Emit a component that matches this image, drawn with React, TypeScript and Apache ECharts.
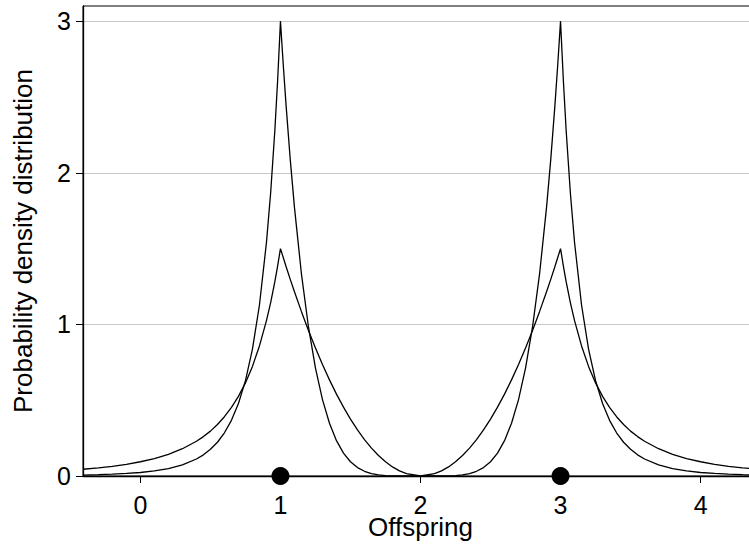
import React, { useEffect, useRef } from "react";
import * as echarts from "echarts";

const offspringX = [
  -0.41, -0.3, -0.2, -0.1, 0, 0.1, 0.2, 0.3, 0.4, 0.45, 0.5, 0.55, 0.6, 0.65, 0.7, 0.75, 0.8, 0.85, 0.9, 0.93, 0.96, 0.98,
  1.0, 1.02, 1.04, 1.07, 1.1, 1.15, 1.2, 1.25, 1.3, 1.35, 1.4, 1.45, 1.5, 1.55, 1.6, 1.65, 1.7, 1.75, 1.8, 1.85, 1.9, 2.0,
  2.1, 2.15, 2.2, 2.25, 2.3, 2.35, 2.4, 2.45, 2.5, 2.55, 2.6, 2.65, 2.7, 2.75, 2.8, 2.85, 2.9, 2.93, 2.96, 2.98,
  3.0, 3.02, 3.04, 3.07, 3.1, 3.15, 3.2, 3.25, 3.3, 3.35, 3.4, 3.45, 3.5, 3.55, 3.6, 3.7, 3.8, 3.9, 4.0, 4.1, 4.2, 4.3, 4.41,
];

const broadDensity = [
  0.0445, 0.0536, 0.064, 0.0771, 0.094, 0.1151, 0.143, 0.18, 0.229, 0.2599, 0.296, 0.3393, 0.391, 0.452, 0.525, 0.614, 0.723, 0.858, 1.025, 1.144, 1.282, 1.386,
  1.5, 1.441, 1.382, 1.297, 1.215, 1.084, 0.96, 0.844, 0.735, 0.634, 0.54, 0.454, 0.375, 0.304, 0.24, 0.184, 0.135, 0.0938, 0.06, 0.0338, 0.015, 0,
  0.015, 0.0338, 0.06, 0.0938, 0.135, 0.184, 0.24, 0.304, 0.375, 0.454, 0.54, 0.634, 0.735, 0.844, 0.96, 1.084, 1.215, 1.297, 1.382, 1.441,
  1.5, 1.386, 1.282, 1.144, 1.025, 0.858, 0.723, 0.614, 0.525, 0.452, 0.391, 0.3393, 0.296, 0.2599, 0.229, 0.18, 0.143, 0.1151, 0.094, 0.0771, 0.064, 0.0536, 0.0445,
];

const sharpDensity = [
  0.0064, 0.0088, 0.012, 0.0167, 0.023, 0.0336, 0.049, 0.073, 0.112, 0.1396, 0.176, 0.2226, 0.285, 0.367, 0.478, 0.629, 0.837, 1.128, 1.54, 1.868, 2.28, 2.612,
  3.0, 2.712, 2.446, 2.087, 1.772, 1.331, 0.983, 0.712, 0.504, 0.348, 0.233, 0.151, 0.094, 0.0554, 0.031, 0.0158, 0.007, 0.0029, 0.001, 0.0002, 0, 0,
  0, 0.0002, 0.001, 0.0029, 0.007, 0.0158, 0.031, 0.0554, 0.094, 0.151, 0.233, 0.348, 0.504, 0.712, 0.983, 1.331, 1.772, 2.087, 2.446, 2.712,
  3.0, 2.612, 2.28, 1.868, 1.54, 1.128, 0.837, 0.629, 0.478, 0.367, 0.285, 0.2226, 0.176, 0.1396, 0.112, 0.073, 0.049, 0.0336, 0.023, 0.0167, 0.012, 0.0088, 0.0064,
];

const parentX = [1, 3];
const parentY = [0, 0];

const xTicks = [0, 1, 2, 3, 4];
const yTicks = [0, 1, 2, 3];

const FONT = "'Liberation Sans', Arial, sans-serif";

export default function App() {
  const ref = useRef<HTMLDivElement>(null);

  useEffect(() => {
    if (!ref.current) return;
    const chart = echarts.init(ref.current, undefined, { renderer: "svg" });

    const broadData = offspringX.map((x, i) => [x, broadDensity[i]]);
    const sharpData = offspringX.map((x, i) => [x, sharpDensity[i]]);
    const parentData = parentX.map((x, i) => [x, parentY[i]]);

    chart.setOption({
      animation: false,
      backgroundColor: "#ffffff",
      grid: {
        left: 83,
        top: 6,
        width: 675,
        height: 470,
        show: true,
        borderColor: "#000000",
        borderWidth: 1,
        containLabel: false,
        outerBoundsMode: "none",
      },
      xAxis: {
        type: "value",
        min: -0.41,
        max: 4.41,
        name: "Offspring",
        nameLocation: "middle",
        nameGap: 38,
        nameMoveOverlap: false,
        nameTextStyle: { fontFamily: FONT, fontSize: 26, color: "#000" },
        axisLine: { show: true, onZero: false, lineStyle: { color: "#000", width: 1.3 } },
        axisTick: { show: true, length: 7, customValues: xTicks, lineStyle: { color: "#000", width: 1 } },
        axisLabel: {
          customValues: xTicks,
          margin: 16,
          fontFamily: FONT,
          fontSize: 25,
          color: "#000",
        },
        splitLine: { show: false },
      },
      yAxis: {
        type: "value",
        min: 0,
        max: 3.1,
        name: "Probability density distribution",
        nameLocation: "middle",
        nameGap: 47,
        nameMoveOverlap: false,
        nameTextStyle: { fontFamily: FONT, fontSize: 26, color: "#000" },
        axisLine: { show: true, onZero: false, lineStyle: { color: "#000", width: 1.3 } },
        axisTick: { show: true, length: 7, customValues: yTicks, lineStyle: { color: "#000", width: 1 } },
        axisLabel: {
          customValues: yTicks,
          margin: 12,
          fontFamily: FONT,
          fontSize: 25,
          color: "#000",
        },
        splitLine: { show: true, lineStyle: { color: "#c8c8c8", width: 1 } },
      },
      series: [
        {
          type: "line",
          data: broadData,
          showSymbol: false,
          symbol: "none",
          lineStyle: { color: "#000", width: 1.3 },
          smooth: false,
        },
        {
          type: "line",
          data: sharpData,
          showSymbol: false,
          symbol: "none",
          lineStyle: { color: "#000", width: 1.3 },
          smooth: false,
        },
        {
          type: "scatter",
          data: parentData,
          symbol: "circle",
          symbolSize: 18,
          clip: false,
          itemStyle: { color: "#000", opacity: 1 },
          z: 5,
        },
      ],
    });

    return () => {
      chart.dispose();
    };
  }, []);

  return (
    <div
      ref={ref}
      style={{ position: "fixed", left: 0, top: 0, width: 749, height: 546, background: "#fff" }}
    />
  );
}
